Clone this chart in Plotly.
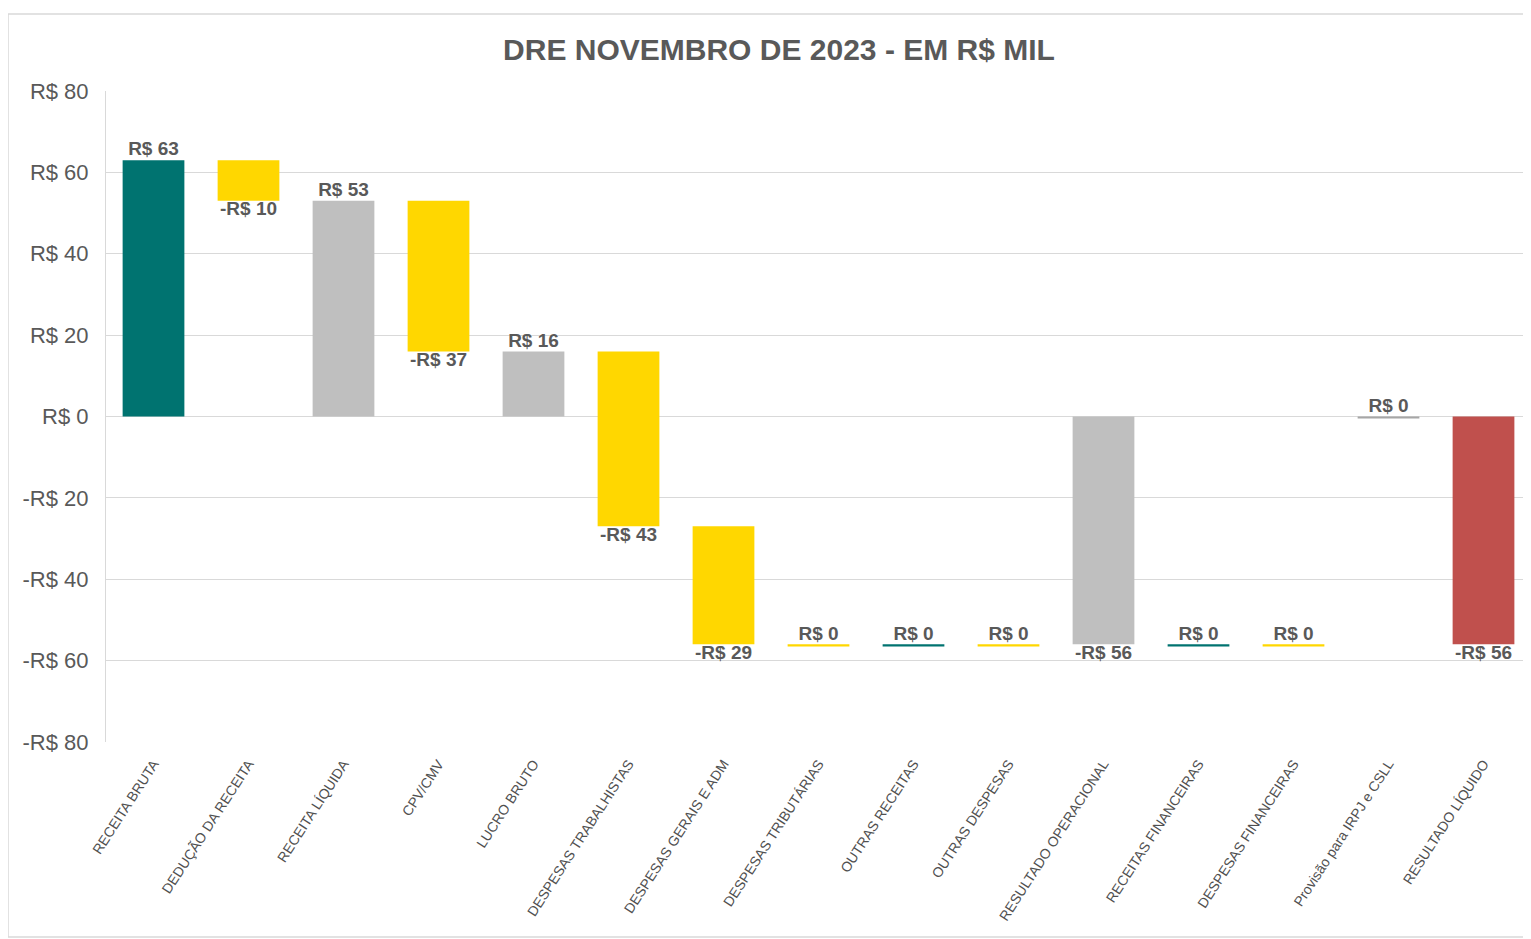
import plotly.graph_objects as go

# ---------------- data ----------------
categories = [
    "RECEITA BRUTA", "DEDUÇÃO DA RECEITA", "RECEITA LÍQUIDA", "CPV/CMV",
    "LUCRO BRUTO", "DESPESAS TRABALHISTAS", "DESPESAS GERAIS E ADM",
    "DESPESAS TRIBUTÁRIAS", "OUTRAS RECEITAS", "OUTRAS DESPESAS",
    "RESULTADO OPERACIONAL", "RECEITAS FINANCEIRAS", "DESPESAS FINANCEIRAS",
    "Provisão para IRPJ e CSLL", "RESULTADO LÍQUIDO",
]
values = [63, -10, 53, -37, 16, -43, -29, 0, 0, 0, -56, 0, 0, 0, -56]
bases = [0, 63, 0, 53, 0, 16, -27, -56, -56, -56, 0, -56, -56, 0, 0]
kinds = ["receita", "despesa", "subtotal", "despesa", "subtotal", "despesa",
         "despesa", "despesa", "receita", "despesa", "subtotal", "receita",
         "despesa", "imposto", "resultado"]
y_ticks = [-80, -60, -40, -20, 0, 20, 40, 60, 80]
title_text = "DRE NOVEMBRO DE 2023 - EM R$ MIL"

# ---------------- style ----------------
palette = {
    "receita": "#007370",
    "despesa": "#FFD700",
    "subtotal": "#BFBFBF",
    "imposto": "#A6A6A6",
    "resultado": "#C0504D",
}
ZERO_THICK = 0.5  # visual thickness for zero-value bars (axis units)
TXT = "#595959"
GRID = "#D9D9D9"
FONT = "Liberation Sans, Arial"


def fmt(v):
    return ("-" if v < 0 else "") + "R$ " + str(abs(int(round(v))))


bar_h = [v if v != 0 else -ZERO_THICK for v in values]
colors = [palette[k] for k in kinds]

label_y, label_pos = [], []
for b, v in zip(bases, values):
    label_y.append(b + v)
    label_pos.append("bottom center" if v < 0 else "top center")

fig = go.Figure()
fig.add_trace(go.Bar(
    x=categories, y=bar_h, base=bases, width=0.65,
    marker=dict(color=colors, line=dict(width=0)),
    hoverinfo="skip", showlegend=False,
))
fig.add_trace(go.Scatter(
    x=categories, y=label_y, mode="text",
    text=[fmt(v) for v in values], textposition=label_pos,
    textfont=dict(family=FONT, size=19, color=TXT, weight="bold"),
    hoverinfo="skip", showlegend=False, cliponaxis=False,
))

# page has an 8px body margin: figure origin sits at page (8, 8)
OFF = 8
W, H = 1531 - OFF, 939 - OFF
L, T = 106 - OFF, 91 - OFF
R = 0
B = H - (742 - OFF)
pw, ph = W - L - R, H - T - B

fig.update_layout(
    width=W, height=H,
    margin=dict(l=L, r=R, t=T, b=B, autoexpand=False),
    paper_bgcolor="white", plot_bgcolor="white",
    font=dict(family=FONT, color=TXT),
    title=dict(text="<b>" + title_text + "</b>",
               x=(779 - OFF) / W, xanchor="center", xref="container",
               y=1 - (49 - OFF) / H, yanchor="middle", yref="container",
               font=dict(size=30, color=TXT, family=FONT)),
    showlegend=False,
)
fig.update_yaxes(
    range=[-80, 80], tickvals=y_ticks, ticktext=[fmt(v) for v in y_ticks],
    showgrid=True, gridcolor=GRID, gridwidth=1,
    zeroline=True, zerolinecolor=GRID, zerolinewidth=1,
    showline=True, linecolor=GRID, linewidth=1,
    ticks="", ticklabelstandoff=12,
    tickfont=dict(size=22, color=TXT),
)
fig.update_xaxes(
    range=[-0.5, len(categories) - 0.5],
    tickangle=-57, showgrid=False, zeroline=False, showline=False, ticks="",
    ticklabelstandoff=10,
    tickfont=dict(size=14, color="#505050"),
)

# outer chart border
fig.add_shape(type="rect", xref="paper", yref="paper",
              x0=(8 - 106) / pw, x1=1.02,
              y0=(742 - 937) / ph, y1=(742 - 14) / ph,
              line=dict(color=GRID, width=1.5), fillcolor="rgba(0,0,0,0)",
              layer="below")

fig.write_html("out.html")
